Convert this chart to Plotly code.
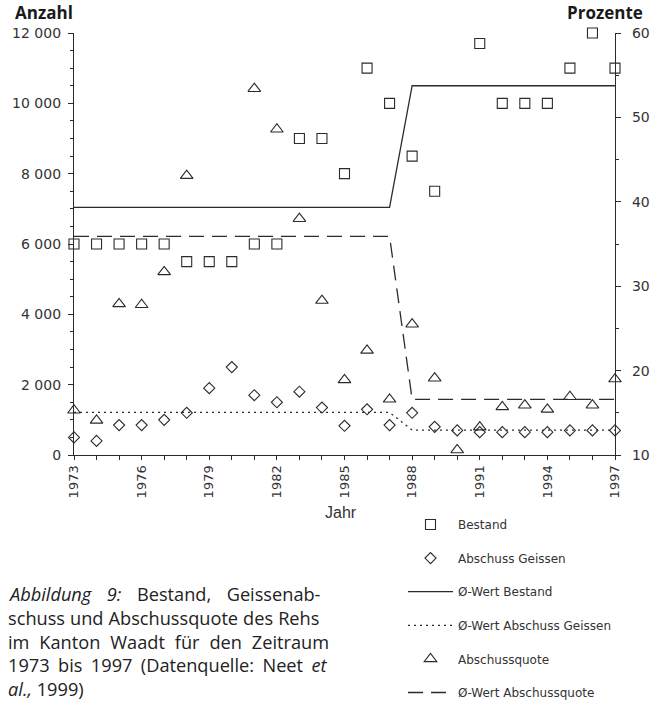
import plotly.graph_objects as go

# Years 1973-1997
years = list(range(1973, 1998))

# Bestand (Anzahl, linke Achse); 1990 ohne Wert
bestand = [6000, 6000, 6000, 6000, 6000, 5500, 5500, 5500, 6000, 6000,
           9000, 9000, 8000, 11000, 10000, 8500, 7500, None, 11700, 10000,
           10000, 10000, 11000, 12000, 11000]

# Abschuss Geissen (Anzahl, linke Achse)
abschuss_geissen = [500, 400, 850, 850, 1000, 1200, 1900, 2500, 1700, 1500,
                    1800, 1350, 830, 1300, 850, 1200, 800, 700, 650, 650,
                    650, 650, 700, 700, 700]

# Abschussquote (Prozente, rechte Achse)
abschussquote = [15.3, 14.1, 27.9, 27.8, 31.7, 43.1, None, None, 53.4, 48.6,
                 38.0, 28.3, 18.9, 22.4, 16.6, 25.5, 19.1, 10.6, 13.3, 15.7,
                 15.9, 15.4, 16.9, 15.9, 19.0]

# Mittelwerte der beiden Perioden 1973-1987 und 1988-1997
wert_bestand = [7040, 7040, 7040, 7040, 7040, 7040, 7040, 7040, 7040, 7040,
                7040, 7040, 7040, 7040, 7040, 10500, 10500, 10500, 10500, 10500,
                10500, 10500, 10500, 10500, 10500]
wert_geissen = [1210, 1210, 1210, 1210, 1210, 1210, 1210, 1210, 1210, 1210,
                1210, 1210, 1210, 1210, 1210, 710, 710, 710, 710, 710,
                710, 710, 710, 710, 710]
wert_quote = [35.9, 35.9, 35.9, 35.9, 35.9, 35.9, 35.9, 35.9, 35.9, 35.9,
              35.9, 35.9, 35.9, 35.9, 35.9, 16.6, 16.6, 16.6, 16.6, 16.6,
              16.6, 16.6, 16.6, 16.6, 16.6]

x_ticks = [1973, 1976, 1979, 1982, 1985, 1988, 1991, 1994, 1997]
left_ticks = [0, 2000, 4000, 6000, 8000, 10000, 12000]
right_ticks = [10, 20, 30, 40, 50, 60]

caption_lines = [
    "<i>Abbildung 9:</i> Bestand, Geissenab-",
    "schuss und Abschussquote des Rehs",
    "im Kanton Waadt für den Zeitraum",
    "1973 bis 1997 (Datenquelle: Neet <i>et</i>",
    "<i>al.,</i> 1999)",
]
# extra word spacing (px) so the caption reads as a justified block
caption_word_spacing = [10.8, 0.3, 5.2, 3.7, 0]

INK = "#2b2b2b"
TICK_FONT = dict(family="DejaVu Sans", size=13, color="#333333")
YTICK_FONT = dict(family="DejaVu Sans", size=14, color="#333333")

# plot area in pixels: x 74..615, y 33..455
def px(x):
    return (x - 74) / 541


def py(y):
    return (455 - y) / 422


fig = go.Figure()

mk_line = dict(color=INK, width=1.1)

fig.add_trace(go.Scatter(
    x=years, y=bestand, mode="markers", name="Bestand",
    marker=dict(symbol="square-open", size=10, line=mk_line, color=INK),
    legendgroup="a", cliponaxis=False))

fig.add_trace(go.Scatter(
    x=years, y=abschuss_geissen, mode="markers", name="Abschuss Geissen",
    marker=dict(symbol="diamond-open", size=8.5, line=mk_line, color=INK),
    legendgroup="b", cliponaxis=False))

fig.add_trace(go.Scatter(
    x=years, y=wert_bestand, mode="lines", name="Ø-Wert Bestand",
    line=dict(color=INK, width=1.3),
    legendgroup="c", cliponaxis=False))

fig.add_trace(go.Scatter(
    x=years, y=wert_geissen, mode="lines", name="Ø-Wert Abschuss Geissen",
    line=dict(color=INK, width=1.3, dash="2px,4px"),
    legendgroup="d", cliponaxis=False))

fig.add_trace(go.Scatter(
    x=years, y=abschussquote, mode="markers", name="Abschussquote",
    marker=dict(symbol="triangle-up-open", size=11, line=mk_line, color=INK),
    yaxis="y2", legendgroup="e", cliponaxis=False))

fig.add_trace(go.Scatter(
    x=years, y=wert_quote, mode="lines", name="Ø-Wert Abschussquote",
    line=dict(color=INK, width=1.3, dash="15px,8px"),
    yaxis="y2", legendgroup="f", cliponaxis=False))

fig.update_layout(
    width=650, height=701,
    margin=dict(l=74, r=35, t=33, b=246, pad=0, autoexpand=False),
    paper_bgcolor="white", plot_bgcolor="white",
    separators=", ",
    showlegend=True,
    legend=dict(
        x=px(403), y=py(510),
        xanchor="left", yanchor="top",
        font=dict(family="DejaVu Sans", size=12, color="#333333"),
        tracegroupgap=14.6, itemwidth=45, bgcolor="rgba(0,0,0,0)",
        traceorder="grouped"),
    xaxis=dict(
        range=[1973, 1997], tickvals=x_ticks, tickangle=-90,
        ticks="outside", ticklen=4, tickwidth=1, tickcolor=INK,
        minor=dict(dtick=1, tick0=1973, ticks="outside", ticklen=4, tickcolor=INK),
        showline=True, linecolor=INK, linewidth=1.2,
        showgrid=False, zeroline=False, tickfont=TICK_FONT),
    yaxis=dict(
        range=[0, 12000], tickvals=left_ticks, tickformat=",d",
        ticks="outside", ticklen=5, tickwidth=1, tickcolor=INK,
        minor=dict(dtick=500, ticks="outside", ticklen=3, tickcolor=INK),
        showline=True, linecolor=INK, linewidth=1.2,
        showgrid=False, zeroline=False, tickfont=YTICK_FONT,
        ticklabelstandoff=4),
    yaxis2=dict(
        range=[10, 60], tickvals=right_ticks, overlaying="y", side="right",
        ticks="outside", ticklen=5, tickwidth=1, tickcolor=INK,
        minor=dict(dtick=5, ticks="outside", ticklen=3, tickcolor=INK),
        showline=True, linecolor=INK, linewidth=1.2,
        showgrid=False, zeroline=False, tickfont=YTICK_FONT,
        ticklabelstandoff=8),
)

title_font = dict(family="Open Sans", size=17, color="#1a1a1a")
fig.add_annotation(text="<b>Anzahl</b>", xref="paper", yref="paper",
                   x=px(13), y=py(13), xanchor="left",
                   yanchor="middle", showarrow=False, font=title_font)
fig.add_annotation(text="<b>Prozente</b>", xref="paper", yref="paper",
                   x=px(645), y=py(13), xanchor="right",
                   yanchor="middle", showarrow=False, font=title_font)
fig.add_annotation(text="Jahr", xref="paper", yref="paper",
                   x=px(341), y=py(512), xanchor="center",
                   yanchor="middle", showarrow=False,
                   font=dict(family="Liberation Sans", size=16, color="#333333"))

caption_y = [594.2, 617.9, 641.6, 665.3, 689.0]
for line, ws, yc in zip(caption_lines, caption_word_spacing, caption_y):
    text = f'<span style="word-spacing:{ws}px">{line}</span>' if ws else line
    fig.add_annotation(text=text, xref="paper", yref="paper",
                       x=px(7), y=py(yc), xanchor="left",
                       yanchor="middle", align="left", showarrow=False,
                       borderpad=0,
                       font=dict(family="Open Sans", size=18.2, color="#222222"))

fig.write_html("out.html")
